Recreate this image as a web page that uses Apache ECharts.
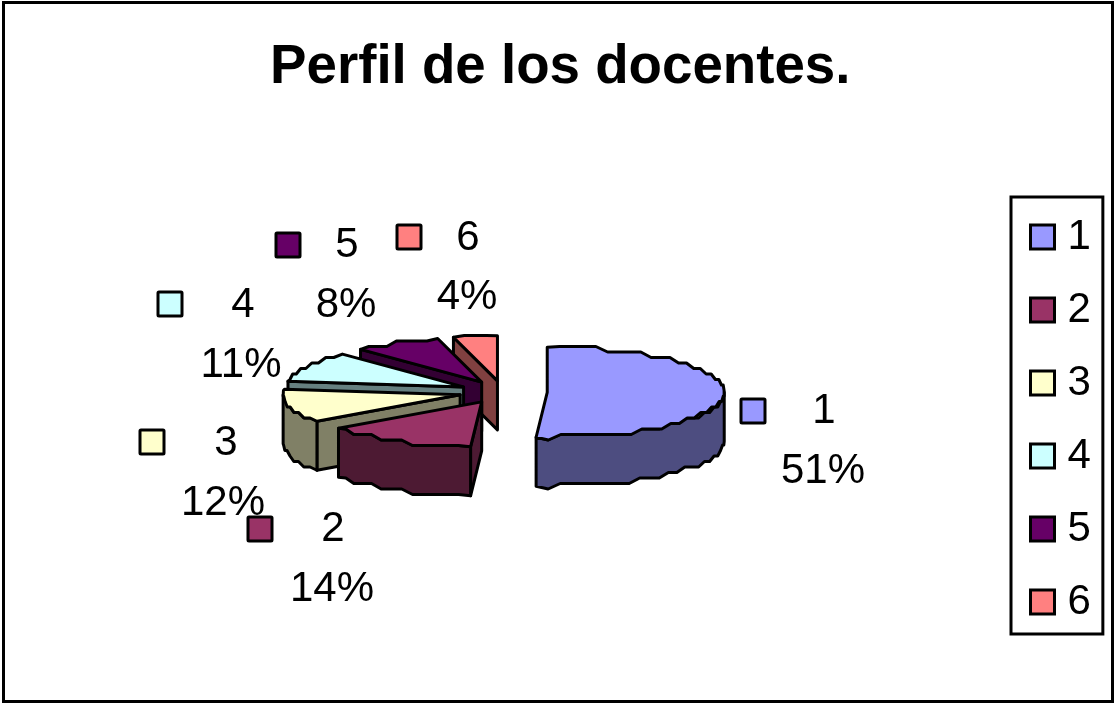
<!DOCTYPE html>
<html><head><meta charset="utf-8">
<style>html,body{margin:0;padding:0;background:#fff}#c{width:1115px;height:704px}</style>
<script src="https://cdn.jsdelivr.net/npm/echarts@6/dist/echarts.min.js"></script>
</head><body><div id="c"></div>
<script>
const titleText = 'Perfil de los docentes.';
const categories = ['1', '2', '3', '4', '5', '6'];
const shares = [51, 14, 12, 11, 8, 4];
const topColors = ['#9999FF', '#993366', '#FFFFCC', '#CCFFFF', '#660066', '#FF8080'];
const wallColors = ['#4D4D80', '#4D1A33', '#808066', '#668080', '#330033', '#804040'];

const FONT = '"Liberation Sans", Arial, sans-serif';
const pie = { cx: 503, cy: 392, rx: 177, ry: 45, depth: 49, explode: 0.25, snap: 5.5, stroke: 3 };
// key box centre, name centre, percent centre of each data label
const labelLayout = [
  { key: [753, 411], name: [824, 411], pct: [823, 471] },
  { key: [260, 529], name: [333, 529], pct: [332, 589] },
  { key: [152, 442], name: [226, 443], pct: [223, 503] },
  { key: [170, 304], name: [243, 305], pct: [241, 365] },
  { key: [288, 245], name: [347, 245], pct: [346, 305] },
  { key: [409, 237], name: [468, 238], pct: [467, 297] }
];

const total = shares.reduce((a, b) => a + b, 0);
const startDeg = shares.map((_, i) => shares.slice(0, i).reduce((a, b) => a + b, 0) / total * 360);

function rim(c, deg) {
  const t = deg * Math.PI / 180;
  return [c[0] + pie.rx * Math.sin(t), c[1] - pie.ry * Math.cos(t)];
}
function arcPts(c, a, b) {
  const pts = [];
  const n = Math.max(2, Math.ceil((b - a) / 4));
  for (let k = 0; k <= n; k++) {
    const p = rim(c, a + (b - a) * k / n);
    if (k > 0 && k < n) p[1] = Math.round(p[1] / pie.snap) * pie.snap;
    pts.push(p);
  }
  return pts;
}
function poly(points, fill) {
  return { type: 'polygon', shape: { points }, style: { fill, stroke: '#000', lineWidth: pie.stroke, lineJoin: 'round' } };
}
function drop(pts) { return pts.map(p => [p[0], p[1] + pie.depth]); }

function renderSlice(i, api) {
  const value = api.value(0);
  const a = startDeg[i];
  const b = a + value / total * 360;
  const mid = (a + b) / 2;
  const o = rim([pie.cx, pie.cy], mid);
  const c = [pie.cx + (o[0] - pie.cx) * pie.explode, pie.cy + (o[1] - pie.cy) * pie.explode];
  const children = [];
  // radial faces turned towards the viewer
  if (a > 180) {
    const e = [c, rim(c, a)];
    children.push(poly(e.concat(drop(e).reverse()), wallColors[i]));
  }
  if (b < 180) {
    const e = [c, rim(c, b)];
    children.push(poly(e.concat(drop(e).reverse()), wallColors[i]));
  }
  // outer wall: the front half of the rim only
  const wa = Math.max(a, 90), wb = Math.min(b, 270);
  if (wb > wa) {
    const e = arcPts(c, wa, wb);
    children.push(poly(e.concat(drop(e).reverse()), wallColors[i]));
  }
  children.push(poly([c].concat(arcPts(c, a, b)), topColors[i]));
  return { type: 'group', children };
}
function renderLabel(i, api) {
  const l = labelLayout[i];
  const txt = (s, p) => ({ type: 'text', style: { text: s, x: p[0], y: p[1], fill: '#000', font: '42px ' + FONT, align: 'center', verticalAlign: 'middle' } });
  return {
    type: 'group',
    children: [
      { type: 'rect', shape: { x: l.key[0] - 12, y: l.key[1] - 12, width: 24, height: 24, r: 1 }, style: { fill: topColors[i], stroke: '#000', lineWidth: pie.stroke } },
      txt(categories[i], l.name),
      txt(Math.round(api.value(0) / total * 100) + '%', l.pct)
    ]
  };
}

const series = categories.map((name, i) => ({
  type: 'custom', name, coordinateSystem: 'none', silent: true, animation: false,
  z: 10 + (categories.length - i),
  itemStyle: { color: topColors[i] },
  data: [[shares[i]]],
  renderItem: (p, api) => renderSlice(i, api)
})).concat(categories.map((name, i) => ({
  type: 'custom', name: name + ' label', coordinateSystem: 'none', silent: true, animation: false,
  z: 30,
  data: [[shares[i]]],
  renderItem: (p, api) => renderLabel(i, api)
})));

const chart = echarts.init(document.getElementById('c'), null, { renderer: 'canvas' });
chart.setOption({
  backgroundColor: '#fff',
  animation: false,
  title: { text: titleText, left: 270, top: 40, padding: 0,
    textStyle: { fontFamily: FONT, fontSize: 54.7, fontWeight: 'bold', color: '#000' } },
  legend: {
    data: categories, orient: 'vertical', left: 1011, top: 197,
    padding: [19, 12, 11, 18], itemGap: 31, itemWidth: 24, itemHeight: 24,
    borderColor: '#000', borderWidth: 3, selectedMode: false, icon: 'rect',
    itemStyle: { borderColor: '#000', borderWidth: 3 },
    textStyle: { fontFamily: FONT, fontSize: 42, color: '#000', lineHeight: 42, padding: [0, 0, 0, 8] }
  },
  graphic: [{ type: 'rect', z: 0, silent: true, shape: { x: 3.5, y: 2.5, width: 1109, height: 699 },
    style: { fill: 'none', stroke: '#000', lineWidth: 3 } }],
  series
});
</script></body></html>
